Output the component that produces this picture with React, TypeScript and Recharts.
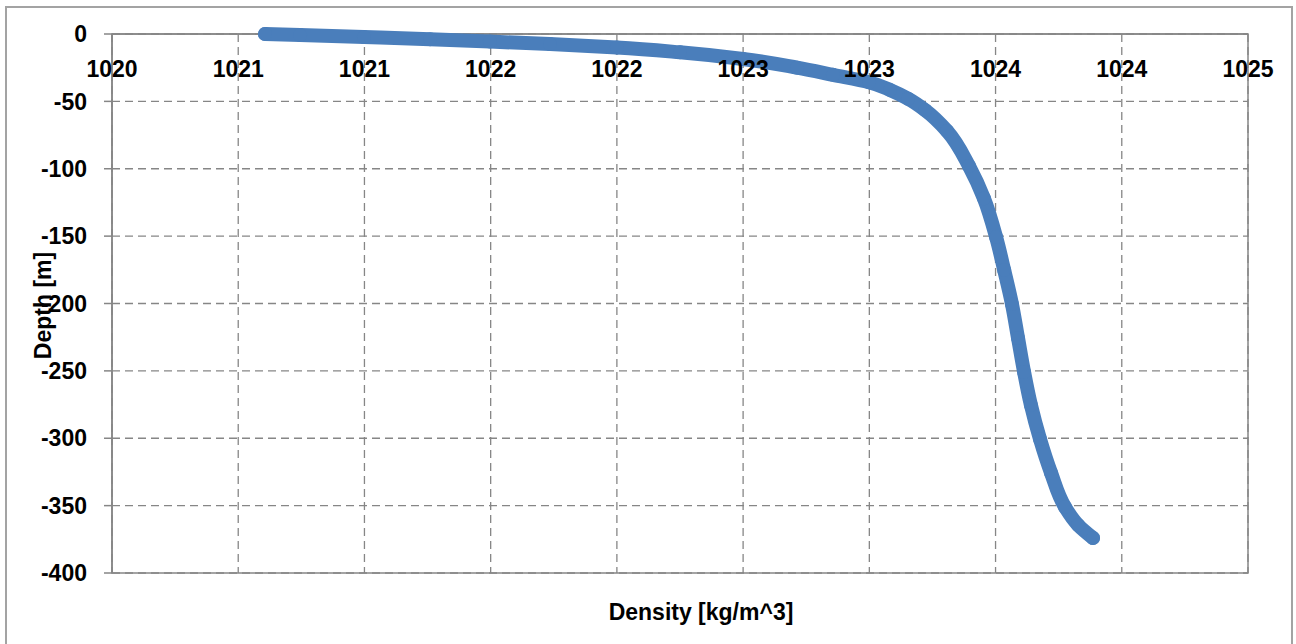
import React from 'react';
import { ScatterChart, Scatter, XAxis, YAxis, CartesianGrid, ReferenceArea } from 'recharts';

const densities = [
  1020.606, 1020.745, 1020.998, 1021.26, 1021.497, 1021.735, 1022.0, 1022.25, 1022.5,
  1022.714, 1022.856, 1022.999, 1023.082, 1023.153, 1023.221, 1023.308, 1023.395,
  1023.454, 1023.502, 1023.534, 1023.565, 1023.589, 1023.613, 1023.64, 1023.676,
  1023.72, 1023.775, 1023.827, 1023.886,
];
const depths = [
  0, -0.8, -2.3, -3.9, -5.6, -7.5, -10.0, -13.6, -18.5,
  -25.0, -30.3, -35.8, -41.5, -48.0, -56.5, -72.0, -98.0,
  -122.0, -150.6, -175.1, -200.4, -225.6, -250.8, -275.3, -300.6,
  -325.8, -351.0, -364.4, -374.0,
];
const xTicks = [1020, 1020.5, 1021, 1021.5, 1022, 1022.5, 1023, 1023.5, 1024, 1024.5];
const yTicks = [-400, -350, -300, -250, -200, -150, -100, -50, 0];
const xTitle = 'Density [kg/m^3]';
const yTitle = 'Depth [m]';

const points = densities.map((d, i) => ({ density: d, depth: depths[i] }));

const BLUE = '#4A7EBB';
const GRAY = '#868686';
const FONT = "'Liberation Sans', Arial, sans-serif";

const Dot = (props: any) => <circle cx={props.cx} cy={props.cy} r={7} fill={BLUE} />;

const YLabel = (props: any) => {
  const vb = props.viewBox || { x: 0, y: 0, width: 0, height: 0 };
  const cx = 43;
  const cy = vb.y + vb.height / 2 + 2;
  return (
    <text
      x={cx}
      y={cy}
      transform={`rotate(-90 ${cx} ${cy})`}
      textAnchor="middle"
      dominantBaseline="central"
      fontFamily={FONT}
      fontWeight="bold"
      fontSize={23}
      fill="#000"
    >
      {yTitle}
    </text>
  );
};

export default function App() {
  return (
    <div style={{ position: 'absolute', left: 0, top: 0, width: 1296, height: 644, overflow: 'hidden', background: '#fff' }}>
      <div style={{ position: 'absolute', left: 5, top: 6, width: 1284, height: 680, border: '2px solid #a3a3a3' }} />
      <div style={{ position: 'absolute', left: 0, top: 0 }}>
        <ScatterChart width={1296} height={644} margin={{ top: 34, right: 48, bottom: 71, left: 0 }}>
          <CartesianGrid stroke={GRAY} strokeWidth={1.3} strokeDasharray="8 5" />
          <XAxis
            type="number"
            dataKey="density"
            domain={[1020, 1024.5]}
            ticks={xTicks}
            orientation="top"
            mirror
            tickLine={false}
            tickSize={0}
            tickMargin={27}
            axisLine={{ stroke: GRAY, strokeWidth: 1.5 }}
            tickFormatter={(v: number) => String(Math.round(v))}
            tick={{ fill: '#000', fontSize: 23, fontWeight: 'bold', fontFamily: FONT }}
          />
          <YAxis
            type="number"
            dataKey="depth"
            domain={[-400, 0]}
            ticks={yTicks}
            width={112}
            tickSize={8}
            tickMargin={17}
            axisLine={{ stroke: GRAY, strokeWidth: 1.5 }}
            tickLine={{ stroke: GRAY, strokeWidth: 1.5 }}
            tick={{ fill: '#000', fontSize: 23, fontWeight: 'bold', fontFamily: FONT }}
            label={{ content: YLabel }}
          />
          <ReferenceArea x1={1020} x2={1024.5} y1={-400} y2={0} fill="none" stroke={GRAY} strokeWidth={1.5} />
          <Scatter
            data={points}
            fill={BLUE}
            isAnimationActive={false}
            shape={Dot}
            lineJointType="monotoneY"
            line={{ stroke: BLUE, strokeWidth: 14, strokeLinejoin: 'round', strokeLinecap: 'round' }}
          />
        </ScatterChart>
      </div>
      <div
        style={{
          position: 'absolute',
          left: 701,
          top: 612,
          transform: 'translate(-50%, -50%)',
          fontFamily: FONT,
          fontWeight: 'bold',
          fontSize: 23,
          color: '#000',
          whiteSpace: 'nowrap',
        }}
      >
        {xTitle}
      </div>
    </div>
  );
}
